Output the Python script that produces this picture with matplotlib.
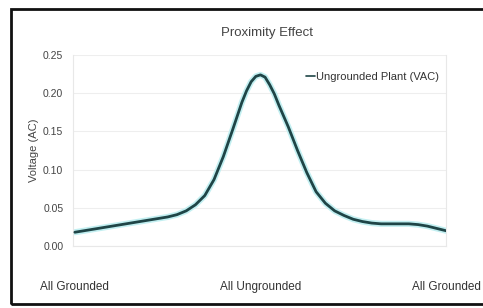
import matplotlib
matplotlib.use("Agg")
import matplotlib.pyplot as plt
from matplotlib.patches import Rectangle

plt.rcParams['font.family'] = ['Liberation Sans', 'DejaVu Sans']

# position along the sweep (0 = all grounded, 0.5 = all ungrounded, 1 = all grounded)
positions = [0.000, 0.025, 0.050, 0.075, 0.100, 0.125, 0.150, 0.175, 0.200, 0.225,
             0.250, 0.275, 0.300, 0.325, 0.350, 0.375, 0.400, 0.425, 0.450, 0.4625,
             0.475, 0.4875, 0.500, 0.5125, 0.525, 0.5375, 0.550, 0.575, 0.600, 0.625,
             0.650, 0.675, 0.700, 0.725, 0.750, 0.775, 0.800, 0.825, 0.850, 0.875,
             0.900, 0.925, 0.950, 0.975, 1.000]
voltage = [0.018, 0.020, 0.022, 0.024, 0.026, 0.028, 0.030, 0.032, 0.034, 0.036,
           0.038, 0.041, 0.046, 0.054, 0.066, 0.087, 0.117, 0.152, 0.188, 0.203,
           0.215, 0.222, 0.224, 0.221, 0.211, 0.199, 0.184, 0.156, 0.125, 0.096,
           0.071, 0.056, 0.046, 0.040, 0.035, 0.032, 0.030, 0.029, 0.029, 0.029,
           0.029, 0.028, 0.026, 0.023, 0.020]
tick_pos = [0.0, 0.5, 1.0]
tick_labels = ["All Grounded", "All Ungrounded", "All Grounded"]
y_ticks = [0.00, 0.05, 0.10, 0.15, 0.20, 0.25]
series_name = "Ungrounded Plant (VAC)"
title = "Proximity Effect"
ylabel = "Voltage (AC)"

W, H = 483, 308
fig = plt.figure(figsize=(W / 100, H / 100), dpi=100)
fig.patch.set_facecolor("white")

# outer frame
fig.patches.append(Rectangle((11 / W, 4 / H), (W + 5 - 11) / W, (302 - 7) / H,
                             transform=fig.transFigure, fill=False,
                             edgecolor="#111111", linewidth=2.0))

left, right, top, bottom = 73, 446, 55, 246
ax = fig.add_axes([left / W, 1 - bottom / H, (right - left) / W, (bottom - top) / H])
ax.set_facecolor("white")

ax.plot(positions, voltage, color="#c2eff1", linewidth=4.4, solid_capstyle="round",
        solid_joinstyle="round", zorder=2)
line, = ax.plot(positions, voltage, color="#1f4547", linewidth=2.0, solid_capstyle="round",
                solid_joinstyle="round", zorder=3, label=series_name)

ax.set_xlim(-0.005, 1.0)
ax.set_ylim(0, 0.25)
ax.set_yticks(y_ticks)
ax.set_yticklabels([f"{v:.2f}" for v in y_ticks], fontsize=7.5, color="#444444")
ax.set_xticks(tick_pos)
ax.set_xticklabels(tick_labels, fontsize=8.5, color="#333333")
ax.tick_params(axis="x", length=0, pad=25)
ax.tick_params(axis="y", length=0, pad=7)
ax.grid(axis="y", color="#eeeeee", linewidth=0.8)
ax.set_axisbelow(True)
ax.spines["top"].set_visible(False)
for s in ["left", "right", "bottom"]:
    ax.spines[s].set_color("#e8e8e8")
    ax.spines[s].set_linewidth(0.8)

ax.set_ylabel(ylabel, fontsize=8, color="#444444", labelpad=3)
fig.text(267 / W, 1 - 33 / H, title, ha="center", va="center", fontsize=9.5, color="#444444")

leg = ax.legend(handles=[line], loc="upper right", bbox_to_anchor=(1.0, 0.945),
                frameon=False, fontsize=8, handlelength=0.8, handletextpad=0.1,
                borderaxespad=0.2)
for t in leg.get_texts():
    t.set_color("#333333")
leg.get_lines()[0].set_linewidth(1.2)

fig.savefig("out.png", dpi=100, facecolor="white")
